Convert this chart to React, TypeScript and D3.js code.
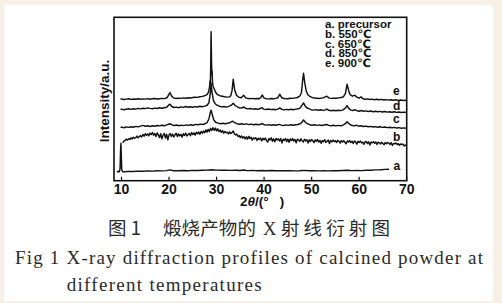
import React from "react";
import * as d3 from "d3";

// ---------- data ----------
const X_TICKS = [10, 20, 30, 40, 50, 60, 70];
const LEGEND = ["a. precursor", "b. 550℃", "c. 650℃", "d. 850℃", "e. 900℃"];
const CURVE_NAMES = ["a", "b", "c", "d", "e"];

const SERIES_A: [number, number][] = [
  [9.0, 9.0], [9.3, 9.2], [9.55, 9.0], [9.7, 12], [9.8, 30], [9.88, 37.5], [9.96, 25], [10.05, 10.5],
  [10.3, 8.8], [10.8, 9.0], [11.5, 9.3], [12.5, 9.2], [13.5, 9.6], [14.5, 9.5], [15.5, 9.8], [16.5, 9.6],
  [17.5, 9.9], [18.5, 9.8], [19.5, 10.1], [20.2, 10.8], [21, 10.0], [22, 9.9], [23, 10.2], [24, 10.0],
  [25, 10.3], [26, 10.2], [27, 10.5], [28, 10.6], [28.9, 11.0], [30, 10.6], [31, 10.4], [32, 10.5],
  [33, 10.3], [34, 10.4], [35, 10.2], [35.7, 10.7], [36.5, 10.1], [37.5, 10.3], [38.5, 10.0], [39.5, 10.2],
  [40.5, 10.0], [41.5, 10.2], [42.5, 9.9], [43.5, 10.1], [44.5, 9.9], [45.5, 10.1], [46.5, 9.8], [47.5, 10.0],
  [48.4, 10.3], [49.5, 9.9], [50.5, 10.1], [51.5, 9.8], [52.5, 10.0], [53.5, 9.8], [54.5, 10.1], [55.5, 9.9],
  [56.5, 10.2], [57.5, 10.5], [58.5, 10.1], [59.5, 10.3], [60.5, 10.1], [61.5, 10.5], [62.5, 10.4],
  [63.5, 10.8], [64.5, 10.9], [65.5, 11.3], [66.3, 11.5],
];

const SERIES_B_THETA = d3.range(10.25, 70.001, 0.25);
const SERIES_B_VALUES = [
  37.8, 39.6, 40.3, 41.5, 40.6, 42.0, 41.2, 42.9, 41.8, 43.5, 42.4, 43.0,
  44.6, 42.9, 44.1, 45.0, 43.8, 46.2, 44.5, 47.0, 45.4, 46.8, 44.9, 47.6,
  46.1, 48.2, 45.5, 47.3, 44.2, 47.8, 46.0, 43.1, 46.9, 41.8, 45.6, 47.2,
  42.6, 46.4, 40.9, 45.8, 47.1, 44.3, 46.5, 43.7, 45.9, 47.4, 44.1, 46.8,
  44.8, 46.3, 43.6, 46.9, 45.2, 47.5, 44.7, 46.1, 47.3, 45.0, 48.1, 46.2,
  47.8, 45.6, 48.4, 46.9, 48.7, 46.4, 49.2, 47.5, 49.6, 48.0, 50.8, 48.6,
  51.3, 49.1, 52.4, 50.2, 53.0, 50.4, 52.6, 49.8, 51.9, 49.2, 50.7, 48.4,
  50.1, 47.6, 49.3, 47.9, 48.5, 46.8, 48.9, 47.1, 48.3, 49.6, 47.0, 45.8,
  46.5, 44.2, 45.1, 43.0, 44.8, 42.6, 44.0, 41.7, 43.9, 41.5, 44.3, 42.1,
  43.4, 40.6, 42.8, 41.9, 43.0, 40.2, 42.5, 41.3, 42.7, 39.8, 42.4, 40.9,
  42.6, 40.4, 38.6, 42.2, 40.7, 42.9, 39.5, 41.8, 38.9, 42.3, 40.6, 41.9,
  39.7, 42.1, 37.8, 41.4, 40.3, 42.0, 39.1, 41.6, 38.4, 41.7, 40.2, 42.1,
  39.6, 41.2, 37.9, 41.5, 40.8, 39.3, 41.9, 40.1, 38.7, 41.4, 39.8, 41.0,
  37.6, 40.9, 39.2, 41.3, 39.9, 38.1, 40.8, 39.4, 41.2, 38.6, 40.3, 37.4,
  40.1, 39.0, 41.0, 38.3, 39.5, 40.7, 37.2, 40.2, 38.8, 40.6, 39.1, 40.0,
  38.2, 40.4, 39.3, 37.6, 40.1, 38.7, 39.9, 38.4, 36.9, 39.8, 38.6, 40.2,
  38.1, 39.5, 37.3, 39.7, 38.9, 36.6, 39.4, 38.2, 39.6, 37.8, 38.5, 36.4,
  38.8, 39.3, 37.1, 38.9, 35.7, 38.6, 37.9, 39.0, 37.4, 38.7, 36.2, 38.5,
  37.9, 36.8, 38.4, 37.2, 35.9, 38.3, 37.0, 38.1, 37.6, 36.3, 38.0, 35.2,
  37.3, 36.9, 37.8, 36.1, 37.0, 35.4, 36.8, 36.2, 36.5, 34.6, 35.8, 35.0,
];

const SERIES_C: [number, number][] = [
  [9.8, 53.2], [10, 53.6], [10.5, 53.0], [11, 53.8], [11.5, 53.3], [12, 54.0], [12.5, 53.5], [13, 54.3],
  [13.5, 53.8], [14, 54.6], [14.5, 55.3], [15, 54.4], [15.5, 54.9], [16, 54.2], [16.5, 55.0], [17, 54.5],
  [17.5, 55.2], [18, 54.8], [18.5, 55.4], [19, 55.0], [19.5, 55.8], [19.9, 56.5], [20.2, 57.0], [20.6, 55.8],
  [21.1, 55.2], [21.6, 55.7], [22.1, 55.0], [22.6, 55.6], [23.1, 55.1], [23.6, 55.8], [24.1, 55.3], [24.6, 56.0],
  [25.1, 55.5], [25.6, 56.3], [26.1, 55.9], [26.6, 56.6], [27.1, 56.2], [27.6, 57.0], [28.0, 58.0], [28.4, 62],
  [28.7, 68.5], [28.85, 70.5], [29.1, 66], [29.4, 61], [29.8, 58.5], [30.3, 57.6], [30.8, 57.0], [31.3, 57.5],
  [31.8, 56.9], [32.3, 57.4], [32.8, 58.0], [33.4, 59.5], [33.8, 58.0], [34.3, 57.0], [34.8, 56.4], [35.3, 57.0],
  [35.8, 56.3], [36.3, 56.8], [36.8, 56.1], [37.3, 56.6], [37.8, 56.0], [38.3, 56.5], [38.8, 55.9], [39.3, 56.4],
  [39.6, 57.2], [40.0, 56.0], [40.5, 55.6], [41.0, 56.1], [41.5, 55.5], [42.0, 56.0], [42.5, 55.4], [43.2, 56.3],
  [43.6, 55.6], [44.1, 55.2], [44.6, 55.8], [45.1, 55.3], [45.6, 55.9], [46.1, 55.4], [46.6, 56.0], [47.1, 56.2],
  [47.6, 56.9], [47.95, 58.5], [48.3, 60.7], [48.7, 58.5], [49.1, 57.0], [49.6, 56.0], [50.1, 55.5], [50.6, 56.0],
  [51.1, 55.3], [51.6, 55.8], [52.1, 55.2], [52.6, 55.7], [53.2, 56.2], [53.6, 55.3], [54.1, 54.9], [54.6, 55.4],
  [55.1, 54.8], [55.6, 55.3], [56.1, 55.0], [56.6, 55.6], [57.1, 57.0], [57.45, 59.0], [57.9, 56.8], [58.4, 55.4],
  [58.9, 54.8], [59.4, 55.5], [59.9, 54.5], [60.4, 54.9], [60.9, 54.2], [61.4, 54.6], [61.9, 53.9], [62.4, 54.3],
  [62.9, 53.7], [63.4, 54.1], [63.9, 53.5], [64.4, 53.9], [64.9, 53.3], [65.4, 53.7], [65.9, 53.1], [66.4, 53.5],
  [66.9, 52.9], [67.4, 53.3], [67.9, 52.7], [68.4, 53.1], [68.9, 52.5], [69.4, 52.8], [70, 52.4],
];

const SERIES_D: [number, number][] = [
  [9.8, 71.2], [10, 71.6], [10.5, 71.0], [11, 71.5], [11.5, 71.9], [12, 71.3], [12.5, 72.0], [13, 71.6],
  [13.5, 72.3], [14, 71.8], [14.5, 72.5], [15, 72.1], [15.5, 72.8], [16, 72.3], [16.5, 72.0], [17, 72.6],
  [17.5, 72.2], [18, 72.9], [18.5, 72.4], [19, 73.0], [19.5, 73.5], [19.9, 75.5], [20.2, 76.5], [20.6, 74.2],
  [21, 73.2], [21.5, 73.6], [22, 73.0], [22.5, 73.8], [23, 73.3], [23.5, 74.2], [24, 73.5], [24.5, 73.9],
  [25, 73.4], [25.5, 74.1], [26, 73.7], [26.5, 74.4], [27, 74.0], [27.5, 74.6], [28, 75.5], [28.4, 78],
  [28.7, 88], [28.85, 97.5], [29.05, 88], [29.35, 80], [29.7, 77], [30.1, 75.5], [30.6, 74.5], [31.1, 73.8],
  [31.6, 74.2], [32.1, 73.6], [32.6, 74.3], [33.1, 75.5], [33.5, 77.5], [33.9, 75.2], [34.4, 73.8], [34.9, 72.6],
  [35.4, 72.9], [35.7, 73.8], [36.1, 72.3], [36.6, 71.8], [37.1, 72.2], [37.6, 71.6], [38.1, 72.0], [38.6, 71.4],
  [39.1, 71.9], [39.5, 73.2], [39.9, 71.6], [40.4, 71.2], [40.9, 71.7], [41.4, 71.1], [41.9, 71.5], [42.4, 71.0],
  [42.9, 71.6], [43.3, 72.8], [43.7, 71.3], [44.2, 70.8], [44.7, 71.3], [45.2, 70.9], [45.7, 71.4], [46.2, 71.0],
  [46.7, 71.6], [47.2, 71.9], [47.6, 72.8], [48.0, 75.5], [48.3, 77.8], [48.6, 75.0], [48.9, 73.2], [49.4, 72.0],
  [49.9, 71.0], [50.4, 70.6], [50.9, 71.1], [51.4, 70.5], [51.9, 70.9], [52.4, 70.3], [52.9, 70.8], [53.2, 71.6],
  [53.6, 70.4], [54.1, 70.0], [54.6, 70.5], [55.1, 69.9], [55.6, 70.4], [56.1, 70.1], [56.6, 70.8], [57.05, 72.5],
  [57.45, 75.0], [57.85, 72.0], [58.3, 70.6], [58.7, 70.2], [59.1, 71.0], [59.6, 69.9], [60.0, 69.5], [60.4, 70.2],
  [60.9, 69.4], [61.4, 69.8], [61.9, 69.2], [62.4, 69.7], [62.9, 69.0], [63.4, 69.5], [63.9, 68.9], [64.4, 69.3],
  [64.9, 68.7], [65.4, 69.2], [65.9, 68.6], [66.4, 69.0], [66.9, 68.4], [67.4, 68.9], [67.9, 68.3], [68.4, 68.7],
  [68.9, 68.2], [69.4, 68.6], [70, 68.2],
];

const SERIES_E: [number, number][] = [
  [9.8, 81.5], [10, 81.8], [10.5, 81.2], [11, 81.6], [11.5, 81.9], [12, 81.3], [12.5, 81.7], [13, 81.5],
  [13.5, 82.0], [14, 81.4], [14.5, 81.8], [15, 81.6], [15.5, 82.1], [16, 81.5], [16.5, 81.9], [17, 82.2],
  [17.5, 81.7], [18, 82.0], [18.5, 82.3], [19, 82.1], [19.6, 83.0], [19.95, 86.0], [20.2, 88.2], [20.5, 85.0],
  [20.9, 82.8], [21.5, 82.2], [22, 82.6], [22.5, 82.3], [23, 82.8], [23.5, 82.5], [24, 83.0], [24.5, 82.7],
  [25, 83.2], [25.5, 83.5], [26, 83.3], [26.5, 84.0], [27, 84.3], [27.5, 85.0], [28, 86.0], [28.3, 88.5],
  [28.5, 93], [28.62, 100], [28.7, 97], [28.78, 120], [28.85, 149], [28.93, 122], [29.0, 106], [29.06, 110],
  [29.15, 98], [29.3, 94], [29.5, 92], [29.8, 88.5], [30.2, 86], [30.7, 85], [31.2, 84.5], [31.7, 84],
  [32.2, 83.6], [32.7, 83.8], [33.0, 85], [33.25, 90], [33.5, 101.4], [33.8, 91], [34.2, 85.5], [34.7, 83.5],
  [35.2, 83], [35.7, 85.5], [36.1, 82.8], [36.5, 82.4], [37, 82], [37.5, 82.3], [38, 81.9], [38.5, 82.2],
  [39, 82], [39.3, 83], [39.6, 85.7], [40.0, 82.6], [40.5, 82], [41, 81.8], [41.5, 82.2], [42, 81.9],
  [42.5, 82.3], [42.9, 83], [43.3, 86.4], [43.7, 83], [44.2, 82.2], [45, 82], [45.5, 82.5], [46, 82.3],
  [46.5, 82.8], [47, 83.2], [47.5, 84.5], [47.85, 88], [48.1, 100], [48.3, 107.4], [48.55, 98], [48.85, 90],
  [49.2, 86], [49.7, 84], [50.2, 83], [51, 82.5], [51.5, 82.2], [52, 82.6], [52.5, 83], [53.2, 84.5],
  [53.7, 82.6], [54.2, 82.3], [54.7, 82.6], [55.2, 82.4], [55.7, 82.8], [56.2, 83.2], [56.7, 84], [57.1, 87],
  [57.45, 96.4], [57.8, 90], [58.1, 86], [58.6, 84.5], [59.1, 85.5], [59.5, 83.5], [60, 82.5], [60.4, 83.8],
  [60.8, 82], [61.2, 81.5], [61.7, 81.8], [62.2, 81.2], [62.7, 81.6], [63.2, 81.0], [63.7, 81.4], [64.2, 80.9],
  [64.7, 81.3], [65.2, 80.7], [65.7, 81.1], [66.2, 80.6], [66.7, 81.0], [67.2, 80.4], [67.7, 80.9], [68.2, 80.3],
  [68.7, 80.7], [69.2, 80.2], [69.6, 80.6], [70, 80.0],
];

const CAPTION_CN_1 = "图 1";
const CAPTION_CN_2 = "煅烧产物的";
const CAPTION_CN_3 = "X";
const CAPTION_CN_4 = "射线衍射图";
const CAPTION_EN_1 = "Fig 1 X-ray diffraction profiles of calcined powder at";
const CAPTION_EN_2 = "different temperatures";

// ---------- chart ----------
const W = 502;
const H = 303;
const PLOT = { left: 114, right: 406.7, top: 17.3, bottom: 180.7 };

export default function App() {
  const x = d3.scaleLinear().domain([10, 70]).range([121.5, 406.7]);
  const y = d3.scaleLinear().domain([0, 163.4]).range([PLOT.bottom, PLOT.top]);
  const line = d3
    .line<[number, number]>()
    .x((d) => x(d[0]))
    .y((d) => y(d[1]));

  const seriesB: [number, number][] = SERIES_B_THETA.map((t, i) => [t, SERIES_B_VALUES[i]]);
  const all = [SERIES_A, seriesB, SERIES_C, SERIES_D, SERIES_E];

  // label anchor (theta, intensity) for curve names
  const labelPos: [number, number][] = [
    [67.2, 10.7],
    [67.1, 40],
    [67.1, 57.4],
    [67.1, 70.7],
    [67.1, 86],
  ];

  const sans = "'Liberation Sans', Arial, 'DejaVu Sans', sans-serif";
  const serif = "'Liberation Serif', 'Times New Roman', 'DejaVu Serif', serif";
  const cjk = "'Noto Sans CJK SC', 'Noto Sans CJK JP', sans-serif";

  return (
    <div style={{ position: "fixed", left: 0, top: 0 }}>
      <svg width={W} height={H} viewBox={`0 0 ${W} ${H}`} style={{ display: "block" }}>
        <rect x={0} y={0} width={W} height={H} fill="#f7f0e6" />
        <rect x={4} y={5} width={489} height={296} fill="#ffffff" />

        {/* curves */}
        <g fill="none" stroke="#111" strokeWidth={1.45} strokeLinejoin="round">
          {all.map((s, i) => (
            <path key={i} d={line(s) || ""} />
          ))}
        </g>

        {/* frame */}
        <rect
          x={PLOT.left}
          y={PLOT.top}
          width={PLOT.right - PLOT.left}
          height={PLOT.bottom - PLOT.top}
          fill="none"
          stroke="#111"
          strokeWidth={1.6}
        />

        {/* x ticks */}
        <g>
          {X_TICKS.map((t) => (
            <g key={t}>
              <line x1={x(t)} x2={x(t)} y1={PLOT.bottom} y2={PLOT.bottom - 4} stroke="#111" strokeWidth={1.2} />
              <text
                x={x(t)}
                y={193.5}
                textAnchor="middle"
                fontFamily={sans}
                fontWeight="bold"
                fontSize={14}
                fill="#111"
              >
                {t}
              </text>
            </g>
          ))}
        </g>

        {/* x title */}
        <text x={240} y={206} fontFamily={sans} fontWeight="bold" fontSize={13.5} fill="#111">
          <tspan>2</tspan>
          <tspan fontStyle="italic">θ</tspan>
          <tspan>/(°</tspan>
          <tspan dx={11}>)</tspan>
        </text>

        {/* y title */}
        <text
          transform={`translate(109,101) rotate(-90)`}
          textAnchor="middle"
          fontFamily={sans}
          fontWeight="bold"
          fontSize={13.5}
          fill="#111"
        >
          Intensity/a.u.
        </text>

        {/* legend */}
        <g fontFamily={sans} fontWeight="bold" fontSize={11.5} fill="#111">
          {LEGEND.map((l, i) => (
            <text key={l} x={325} y={28 + i * 9.8}>
              {l}
            </text>
          ))}
        </g>

        {/* curve names */}
        <g fontFamily={sans} fontWeight="bold" fontSize={12} fill="#111">
          {CURVE_NAMES.map((n, i) => (
            <text key={n} x={x(labelPos[i][0])} y={y(labelPos[i][1])}>
              {n}
            </text>
          ))}
        </g>

        {/* captions */}
        <g fontFamily={cjk} fontSize={18.5} fill="#2a2a2a">
          <text x={108} y={235}>{CAPTION_CN_1}</text>
          <text x={163} y={235} textLength={93} lengthAdjust="spacing">
            {CAPTION_CN_2}
          </text>
          <text x={263} y={235} fontFamily={serif}>{CAPTION_CN_3}</text>
          <text x={281} y={235} textLength={109} lengthAdjust="spacing">
            {CAPTION_CN_4}
          </text>
        </g>
        <g fontFamily={serif} fontSize={19} fill="#2a2a2a">
          <text x={15} y={263.5} textLength={468} lengthAdjust="spacing">
            {CAPTION_EN_1}
          </text>
          <text x={66.7} y={291} textLength={195} lengthAdjust="spacing">
            {CAPTION_EN_2}
          </text>
        </g>
      </svg>
    </div>
  );
}
